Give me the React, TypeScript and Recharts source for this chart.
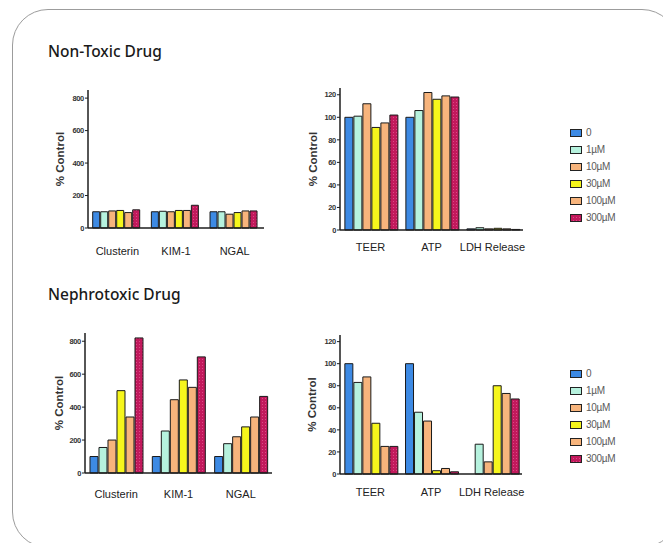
import React from 'react';
import { BarChart, Bar, XAxis, YAxis, Legend } from 'recharts';

const DOSES = ['0', '1µM', '10µM', '30µM', '100µM', '300µM'];
const DOSE_KEYS = ['d0', 'd1', 'd10', 'd30', 'd100', 'd300'];
const DOSE_FILLS = ['#3d8ae4', '#b6f2de', '#f7b47c', '#f6f61c', '#f7b47c', 'url(#hatch)'];

const BIOMARKERS = ['Clusterin', 'KIM-1', 'NGAL'];
const FUNCTION_TESTS = ['TEER', 'ATP', 'LDH Release'];

// values per category, one entry per dose (0 .. 300µM)
const nonToxicBiomarkers = [
  [100, 100, 105, 108, 95, 112],
  [100, 103, 100, 108, 108, 140],
  [100, 100, 85, 95, 105, 105],
];
const nonToxicFunction = [
  [100, 101, 112, 91, 95, 102],
  [100, 106, 122, 116, 119, 118],
  [1, 2, 1, 1.5, 1, 0.5],
];
const nephroBiomarkers = [
  [100, 155, 200, 500, 340, 820],
  [100, 255, 445, 565, 520, 705],
  [100, 178, 220, 280, 340, 465],
];
const nephroFunction = [
  [100, 83, 88, 46, 25, 25],
  [100, 56, 48, 3, 5, 2],
  [0, 27, 11, 80, 73, 68],
];

const BIOMARKER_TICKS = [0, 200, 400, 600, 800];
const FUNCTION_TICKS = [0, 20, 40, 60, 80, 100, 120];

const toRows = (cats: string[], vals: number[][]) =>
  cats.map((name, i) => {
    const row: Record<string, any> = { name };
    DOSE_KEYS.forEach((k, j) => (row[k] = vals[i][j]));
    return row;
  });

const AXIS = '#1e1e1e';
const FONT = "'Liberation Sans', Arial, sans-serif";

const DoseLegend = () => (
  <div style={{ fontFamily: FONT, fontSize: 10, color: '#5a5a5a', letterSpacing: -0.3 }}>
    {DOSES.map((d, i) => (
      <div key={d} style={{ display: 'flex', alignItems: 'center', height: 17 }}>
        <svg width={12} height={8}>
          <rect x={0.5} y={0.5} width={11} height={7} fill={DOSE_FILLS[i]} stroke="#222" />
        </svg>
        <span style={{ marginLeft: 4 }}>{d}</span>
      </div>
    ))}
  </div>
);

interface PanelProps {
  left: number;
  top: number;
  width: number;
  data: Record<string, any>[];
  domainMax: number;
  ticks: number[];
  margin: { top: number; right: number; bottom: number; left: number };
  yWidth: number;
  labelOffset: number;
  tickMargin: number;
  legendTop?: number;
}

const Panel: React.FC<PanelProps> = ({ left, top, width, data, domainMax, ticks, margin, yWidth, labelOffset, tickMargin, legendTop }) => (
  <div style={{ position: 'absolute', left, top }}>
    <BarChart width={width} height={190} data={data} margin={margin} barCategoryGap="8%" barGap={1}>
      <defs>
        <pattern id="hatch" width="3" height="3" patternUnits="userSpaceOnUse">
          <rect width="3" height="3" fill="#c2195c" />
          <rect width="1" height="1" fill="#dc4a86" />
        </pattern>
      </defs>
      <XAxis
        dataKey="name"
        height={30}
        tickLine={false}
        tickSize={0}
        tickMargin={tickMargin}
        axisLine={{ stroke: AXIS, strokeWidth: 1.5 }}
        tick={{ fontSize: 11, fill: '#222', fontFamily: FONT }}
        interval={0}
      />
      <YAxis
        width={yWidth}
        domain={[0, domainMax]}
        ticks={ticks}
        tickSize={3}
        tickMargin={1}
        axisLine={{ stroke: AXIS, strokeWidth: 1.5 }}
        tickLine={{ stroke: AXIS }}
        tick={{ fontSize: 7.5, fontWeight: 700, fill: '#333', fontFamily: FONT, letterSpacing: -0.3 }}
        label={{
          value: '% Control',
          angle: -90,
          position: 'insideLeft',
          offset: labelOffset,
          style: { textAnchor: 'middle', fontSize: 11.5, fontWeight: 700, fill: '#333', fontFamily: FONT },
        }}
      />
      {legendTop !== undefined && (
        <Legend
          layout="vertical"
          align="center"
          verticalAlign="middle"
          content={<DoseLegend />}
          wrapperStyle={{ left: 270, top: legendTop, width: 70 }}
        />
      )}
      {DOSE_KEYS.map((k, i) => (
        <Bar key={k} dataKey={k} name={DOSES[i]} fill={DOSE_FILLS[i]} stroke="#1a1a1a" strokeWidth={1} isAnimationActive={false} />
      ))}
    </BarChart>
  </div>
);

const titleStyle: React.CSSProperties = {
  position: 'absolute',
  left: 48,
  fontFamily: "'Noto Sans', 'Open Sans', sans-serif",
  fontWeight: 500,
  fontSize: 15.5,
  lineHeight: '15px',
  color: '#1a1a1a',
};

export default function App() {
  return (
    <div style={{ position: 'absolute', left: 0, top: 0, width: 663, height: 543, overflow: 'hidden', background: '#fff' }}>
      <div
        style={{
          position: 'absolute',
          left: 12,
          top: 9,
          width: 666,
          height: 539,
          border: '1.5px solid #9c9c9c',
          borderRadius: 36,
          boxSizing: 'border-box',
        }}
      />
      <div style={{ ...titleStyle, top: 44 }}>Non-Toxic Drug</div>
      <div style={{ ...titleStyle, top: 287 }}>Nephrotoxic Drug</div>

      <Panel
        left={40}
        top={78}
        width={240}
        data={toRows(BIOMARKERS, nonToxicBiomarkers)}
        domainMax={850}
        ticks={BIOMARKER_TICKS}
        margin={{ top: 12, right: 16, bottom: 10, left: 0 }}
        yWidth={48}
        labelOffset={20}
        tickMargin={19}
      />
      <Panel
        left={300}
        top={78}
        width={340}
        data={toRows(FUNCTION_TESTS, nonToxicFunction)}
        domainMax={126}
        ticks={FUNCTION_TICKS}
        margin={{ top: 10, right: 117, bottom: 8, left: 0 }}
        yWidth={40}
        labelOffset={13}
        tickMargin={13}
        legendTop={46}
      />
      <Panel
        left={40}
        top={320}
        width={240}
        data={toRows(BIOMARKERS, nephroBiomarkers)}
        domainMax={850}
        ticks={BIOMARKER_TICKS}
        margin={{ top: 13, right: 8, bottom: 7, left: 0 }}
        yWidth={45}
        labelOffset={19}
        tickMargin={17}
      />
      <Panel
        left={300}
        top={320}
        width={340}
        data={toRows(FUNCTION_TESTS, nephroFunction)}
        domainMax={126}
        ticks={FUNCTION_TICKS}
        margin={{ top: 15, right: 118, bottom: 6, left: 0 }}
        yWidth={40}
        labelOffset={12}
        tickMargin={14}
        legendTop={45}
      />
    </div>
  );
}
